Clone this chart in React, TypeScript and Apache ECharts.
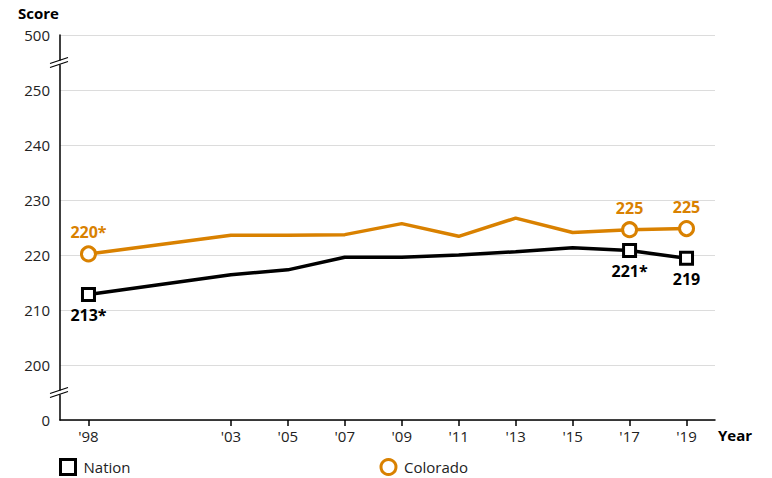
import React, { useEffect, useRef } from "react";
import * as echarts from "echarts";

const years = [1998, 2003, 2005, 2007, 2009, 2011, 2013, 2015, 2017, 2019];
const nation = [212.8, 216.4, 217.3, 219.6, 219.6, 220.0, 220.6, 221.3, 220.8, 219.4];
const colorado = [220.2, 223.6, 223.6, 223.7, 225.7, 223.4, 226.7, 224.1, 224.6, 224.8];
const nationLabels: Record<number, string> = { 1998: "213*", 2017: "221*", 2019: "219" };
const coloradoLabels: Record<number, string> = { 1998: "220*", 2017: "225", 2019: "225" };
const yTickLabels: Record<number, string> = { 190: "0", 200: "200", 210: "210", 220: "220", 230: "230", 240: "240", 250: "250", 260: "500" };

const ORANGE = "#D98100";
const FONT = "'Open Sans', 'Noto Sans', sans-serif";

export default function App() {
  const ref = useRef<HTMLDivElement>(null);
  useEffect(() => {
    const chart = echarts.init(ref.current!, null, { renderer: "svg" });
    const mk = (vals: number[], labels: Record<number, string>, color: string, symbol: string, pos: string) =>
      vals.map((v, i) => {
        const y = years[i];
        if (labels[y]) {
          return {
            value: [y, v],
            symbol,
            symbolSize: symbol === "rect" ? 12 : 14,
            label: {
              show: true,
              position: pos,
              distance: 5,
              formatter: labels[y],
              color,
              fontSize: 16,
              fontWeight: "bold",
              fontFamily: FONT,
            },
          };
        }
        return { value: [y, v], symbol: "none" };
      });

    chart.setOption({
      animation: false,
      textStyle: { fontFamily: FONT },
      grid: { left: 60, right: 57, top: 35, bottom: 58 },
      xAxis: {
        type: "value",
        min: 1997,
        max: 2020,
        axisLine: { lineStyle: { color: "#000", width: 1.5 } },
        axisTick: { show: true, customValues: years, length: 6, lineStyle: { color: "#000", width: 1.5 } },
        axisLabel: {
          customValues: years,
          formatter: (v: number) => "'" + String(v).slice(2),
          color: "#222",
          fontSize: 15,
          margin: 8,
          fontFamily: FONT,
        },
        splitLine: { show: false },
      },
      yAxis: {
        type: "value",
        min: 190,
        max: 260,
        interval: 10,
        axisLine: { show: true, lineStyle: { color: "#000", width: 1.5 } },
        axisTick: { show: false },
        axisLabel: {
          formatter: (v: number) => yTickLabels[v] ?? "",
          color: "#222",
          fontSize: 15,
          margin: 10,
          fontFamily: FONT,
        },
        splitLine: { show: true, lineStyle: { color: "#dcdcdc", width: 1 } },
      },
      legend: {
        left: 59,
        top: 458,
        padding: 0,
        itemWidth: 15,
        itemHeight: 15,
        itemGap: 249,
        textStyle: { fontSize: 15, color: "#222", fontFamily: FONT, padding: [0, 0, 0, 3] },
        data: [
          { name: "Nation", icon: "rect", itemStyle: { color: "#fff", borderColor: "#000", borderWidth: 3 } },
          { name: "Colorado", icon: "circle", itemStyle: { color: "#fff", borderColor: ORANGE, borderWidth: 3 } },
        ],
      },
      series: [
        {
          name: "Nation",
          type: "line",
          data: mk(nation, nationLabels, "#000", "rect", "bottom"),
          lineStyle: { color: "#000", width: 3.5 },
          itemStyle: { color: "#fff", borderColor: "#000", borderWidth: 3 },
          z: 3,
        },
        {
          name: "Colorado",
          type: "line",
          data: mk(colorado, coloradoLabels, ORANGE, "circle", "top"),
          lineStyle: { color: ORANGE, width: 3.5 },
          itemStyle: { color: "#fff", borderColor: ORANGE, borderWidth: 3 },
          z: 4,
        },
      ],
    });

    const p1 = chart.convertToPixel({ gridIndex: 0 }, [1997, 255]) as number[];
    const p2 = chart.convertToPixel({ gridIndex: 0 }, [1997, 195]) as number[];
    const brk = (p: number[]) => [
      { type: "rect", shape: { x: p[0] - 3, y: p[1] - 2, width: 6, height: 4 }, style: { fill: "#fff" }, z: 100 },
      { type: "line", shape: { x1: p[0] - 10, y1: p[1] + 1, x2: p[0] + 8, y2: p[1] - 5 }, style: { stroke: "#000", lineWidth: 1.3 }, z: 101 },
      { type: "line", shape: { x1: p[0] - 10, y1: p[1] + 5, x2: p[0] + 8, y2: p[1] - 1 }, style: { stroke: "#000", lineWidth: 1.3 }, z: 101 },
    ];
    chart.setOption({
      graphic: [
        ...brk(p1),
        ...brk(p2),
        { type: "text", left: 18, top: 5, style: { text: "Score", fontSize: 15, fontWeight: "bold", fill: "#000", fontFamily: FONT } },
        { type: "text", left: 718, top: 427, style: { text: "Year", fontSize: 15, fontWeight: "bold", fill: "#000", fontFamily: FONT } },
      ],
    });

    return () => chart.dispose();
  }, []);
  return <div ref={ref} style={{ width: 772, height: 478, position: "absolute", left: 0, top: 0 }} />;
}
